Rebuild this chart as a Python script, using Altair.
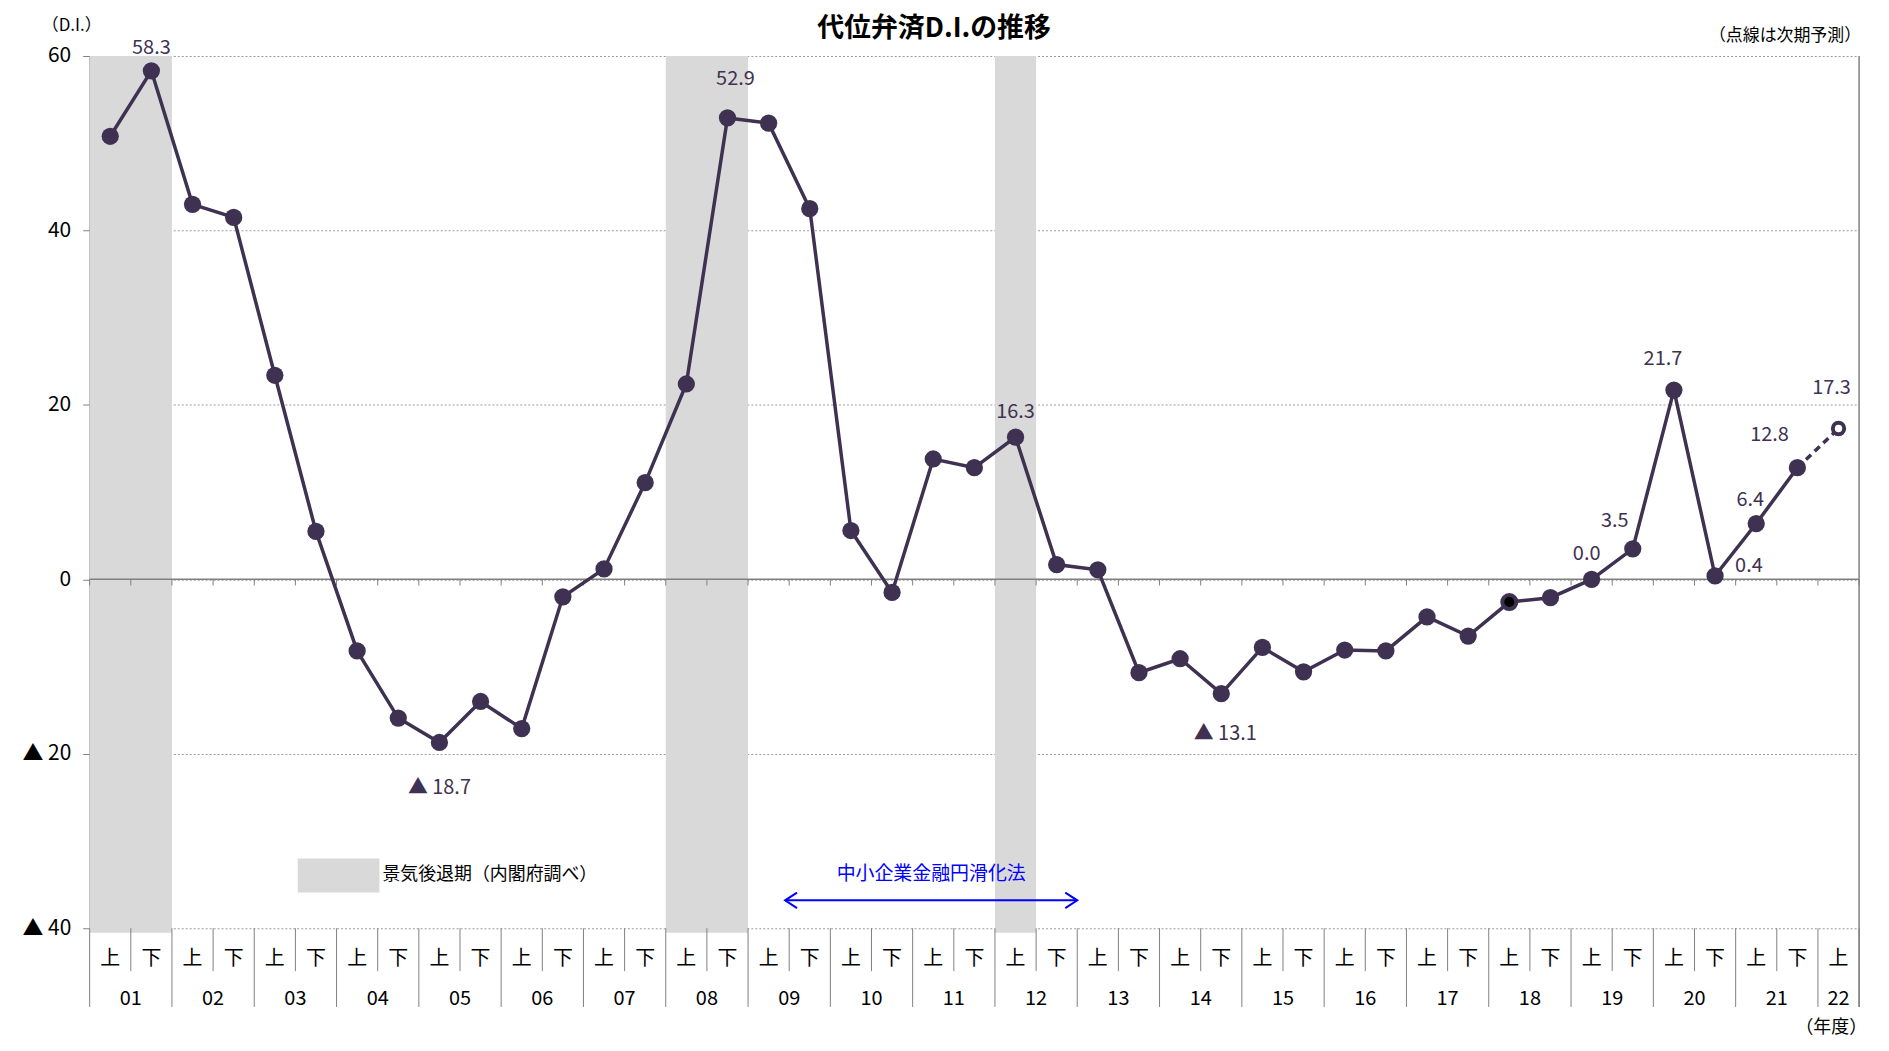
import altair as alt
import pandas as pd

# ---------------- data ----------------
years = ["01", "02", "03", "04", "05", "06", "07", "08", "09", "10", "11",
         "12", "13", "14", "15", "16", "17", "18", "19", "20", "21", "22"]
halves = ["上", "下"]
di_values = [50.8, 58.3, 43.0, 41.5, 23.4, 5.5, -8.2, -15.9, -18.7, -14.0,
             -17.1, -2.0, 1.2, 11.1, 22.4, 52.9, 52.3, 42.5, 5.6, -1.5,
             13.8, 12.8, 16.3, 1.7, 1.1, -10.7, -9.1, -13.1, -7.8, -10.6,
             -8.1, -8.2, -4.3, -6.5, -2.6, -2.1, 0.0, 3.5, 21.7, 0.4,
             6.4, 12.8, 17.3]
labeled_points = [1, 8, 15, 22, 27, 36, 37, 38, 39, 40, 41, 42]
recession_periods = [(0, 1), (14, 15), (22, 22)]
forecast_index = 42
highlight_index = 34
law_span = (16.4, 23.5)
law_text = "中小企業金融円滑化法"
legend_text = "景気後退期（内閣府調べ）"
title_text = "代位弁済D.I.の推移"
y_ticks = [-40, -20, 0, 20, 40, 60]

# ---------------- style ----------------
W, H = 1777, 876
FONT = "Noto Sans CJK JP"
PURPLE = "#3f3151"
GRAY = "#808080"
label_offsets = {1: (0, -23), 8: (0, 46), 15: (8, -39), 22: (0, -25),
                 27: (4, 41), 36: (-5, -25), 37: (-18, -28), 38: (-11, -31),
                 39: (34, -10), 40: (-6, -24), 41: (-28, -33), 42: (-7, -41)}

periods = [(y, h) for y in years for h in halves][:len(di_values)]
n = len(di_values)
df = pd.DataFrame({
    "idx": list(range(n)),
    "year": [p[0] for p in periods],
    "half": [p[1] for p in periods],
    "value": di_values,
})

rec_df = pd.DataFrame({
    "start": [a - 0.5 for a, b in recession_periods],
    "end": [b + 0.5 for a, b in recession_periods],
    "top": [60] * len(recession_periods),
    "bottom": [-40.5] * len(recession_periods),
})

year_df = df.groupby("year", as_index=False)["idx"].mean()

bounds = []
for b in range(-1, n):
    long = b == -1 or b == n - 1 or periods[b][0] != periods[b + 1][0]
    bounds.append({"x": b + 0.5, "long": long})
bound_df = pd.DataFrame(bounds)

xs = alt.Scale(domain=[-0.5, n - 0.5], nice=False, zero=False)
ys = alt.Scale(domain=[-40, 60], nice=False, zero=False)

y_axis = alt.Axis(
    values=y_ticks,
    labelExpr="datum.value < 0 ? '▲ ' + abs(datum.value) : '' + datum.value",
    grid=True, gridDash=[2, 2], gridColor="#9a9a9a", gridWidth=1,
    domainColor=GRAY, domainWidth=1.5, tickColor=GRAY, tickSize=7,
    labelFontSize=21, labelColor="#000000", labelFont=FONT, labelPadding=12,
    title=None,
)


def X(field):
    return alt.X(field, scale=xs, axis=None)


def Y(field):
    return alt.Y(field, scale=ys, axis=y_axis)


def YD(v):
    return alt.YDatum(v, scale=ys, axis=y_axis)


shade = alt.Chart(rec_df).mark_rect(color="#d9d9d9").encode(
    x=X("start:Q"), x2="end:Q", y=Y("top:Q"), y2="bottom:Q",
)

zero_line = alt.Chart(pd.DataFrame({"a": [-0.5], "b": [n - 0.5]})).mark_rule(
    color=GRAY, strokeWidth=1.5).encode(
    x=X("a:Q"), x2="b:Q", y=YD(0),
)

zero_ticks = alt.Chart(bound_df).mark_rule(color=GRAY, strokeWidth=1).encode(
    x=X("x:Q"), y=YD(0), y2=alt.datum(-0.7),
)

right_border = alt.Chart(pd.DataFrame({"x": [n - 0.5]})).mark_rule(
    color=GRAY, strokeWidth=1.5).encode(
    x=X("x:Q"), y=alt.value(0), y2=alt.value(955),
)

table_short = alt.Chart(bound_df).transform_filter("!datum.long").mark_rule(
    color=GRAY, strokeWidth=1).encode(
    x=X("x:Q"), y=alt.value(H), y2=alt.value(919),
)
table_long = alt.Chart(bound_df).transform_filter("datum.long").mark_rule(
    color=GRAY, strokeWidth=1).encode(
    x=X("x:Q"), y=alt.value(H), y2=alt.value(955),
)

half_text = alt.Chart(df).mark_text(font=FONT, fontSize=20, color="#000000",
                                    baseline="middle").encode(
    x=X("idx:Q"), y=alt.value(907), text="half:N",
)
year_text = alt.Chart(year_df).mark_text(font=FONT, fontSize=20, color="#000000",
                                         baseline="middle").encode(
    x=X("idx:Q"), y=alt.value(947), text="year:N",
)

line_solid = alt.Chart(df).transform_filter(
    f"datum.idx <= {forecast_index - 1}").mark_line(
    color=PURPLE, strokeWidth=3.5).encode(x=X("idx:Q"), y=Y("value:Q"))
line_dash = alt.Chart(df).transform_filter(
    f"datum.idx >= {forecast_index - 1}").mark_line(
    color=PURPLE, strokeWidth=3.5, strokeDash=[7, 5]).encode(x=X("idx:Q"), y=Y("value:Q"))

pts = alt.Chart(df).transform_filter(
    f"datum.idx != {forecast_index} && datum.idx != {highlight_index}").mark_point(
    filled=True, color=PURPLE, size=300, opacity=1).encode(x=X("idx:Q"), y=Y("value:Q"))
pt_high = alt.Chart(df).transform_filter(f"datum.idx == {highlight_index}").mark_point(
    filled=True, fill="#000000", stroke=PURPLE, strokeWidth=4, size=200, opacity=1).encode(
    x=X("idx:Q"), y=Y("value:Q"))
pt_fc = alt.Chart(df).transform_filter(f"datum.idx == {forecast_index}").mark_point(
    filled=True, fill="#ffffff", stroke=PURPLE, strokeWidth=4, size=130, opacity=1).encode(
    x=X("idx:Q"), y=Y("value:Q"))

label_layers = []
for i in labeled_points:
    dx, dy = label_offsets[i]
    label_layers.append(
        alt.Chart(df).transform_filter(f"datum.idx == {i}").transform_calculate(
            lab="datum.value < 0 ? '▲ ' + format(abs(datum.value), '.1f') : format(datum.value, '.1f')"
        ).mark_text(font=FONT, fontSize=20, color=PURPLE, baseline="middle",
                    dx=dx, dy=dy).encode(
            x=X("idx:Q"), y=Y("value:Q"), text="lab:N",
        )
    )

law_df = pd.DataFrame({"a": [law_span[0]], "b": [law_span[1]],
                       "m": [(law_span[0] + law_span[1]) / 2], "t": [law_text]})
law_rule = alt.Chart(law_df).mark_rule(color="#0000ff", strokeWidth=2).encode(
    x=X("a:Q"), x2="b:Q", y=YD(-36.8),
)
law_head_l = alt.Chart(law_df).mark_point(
    shape="M1,-0.65L0,0L1,0.65", filled=False, stroke="#0000ff", strokeWidth=2,
    size=576, opacity=1).encode(x=X("a:Q"), y=YD(-36.8))
law_head_r = alt.Chart(law_df).mark_point(
    shape="M-1,-0.65L0,0L-1,0.65", filled=False, stroke="#0000ff", strokeWidth=2,
    size=576, opacity=1).encode(x=X("b:Q"), y=YD(-36.8))
law_label = alt.Chart(law_df).mark_text(font=FONT, fontSize=19, color="#0000ff",
                                        baseline="middle").encode(
    x=X("m:Q"), y=YD(-33.8), text="t:N",
)

legend_rect = alt.Chart(pd.DataFrame({"t": [legend_text]})).mark_rect(color="#d9d9d9").encode(
    x=alt.value(209), x2=alt.value(291), y=alt.value(806), y2=alt.value(840),
)
legend_label = alt.Chart(pd.DataFrame({"t": [legend_text]})).mark_text(
    font=FONT, fontSize=18, color="#000000", align="left", baseline="middle").encode(
    x=alt.value(294), y=alt.value(823), text="t:N",
)

header = pd.DataFrame({"title": [title_text], "unit": ["（D.I.）"],
                       "note": ["（点線は次期予測）"], "xunit": ["（年度）"]})
title_mark = alt.Chart(header).mark_text(
    font=FONT, fontSize=27, fontWeight="bold", color="#000000", baseline="middle").encode(
    x=alt.value(848), y=alt.value(-27), text="title:N")
unit_mark = alt.Chart(header).mark_text(
    font=FONT, fontSize=17, color="#000000", baseline="middle").encode(
    x=alt.value(-18), y=alt.value(-30), text="unit:N")
note_mark = alt.Chart(header).mark_text(
    font=FONT, fontSize=17, color="#000000", baseline="middle", align="right").encode(
    x=alt.value(W + 2), y=alt.value(-20), text="note:N")
xunit_mark = alt.Chart(header).mark_text(
    font=FONT, fontSize=18, color="#000000", baseline="middle", align="right").encode(
    x=alt.value(W + 8), y=alt.value(976), text="xunit:N")

chart = alt.layer(
    shade, zero_line, zero_ticks, right_border, table_short, table_long,
    half_text, year_text, legend_rect, legend_label,
    law_rule, law_head_l, law_head_r, law_label,
    line_solid, line_dash, pts, pt_high, pt_fc, *label_layers,
    title_mark, unit_mark, note_mark, xunit_mark,
).properties(
    width=W, height=H,
    autosize=alt.AutoSizeParams(type="none"),
    padding={"left": 82, "top": 46, "right": 22, "bottom": 113},
).configure_view(stroke=None)

chart.save("out.html", embed_options={"renderer": "svg", "actions": False})
